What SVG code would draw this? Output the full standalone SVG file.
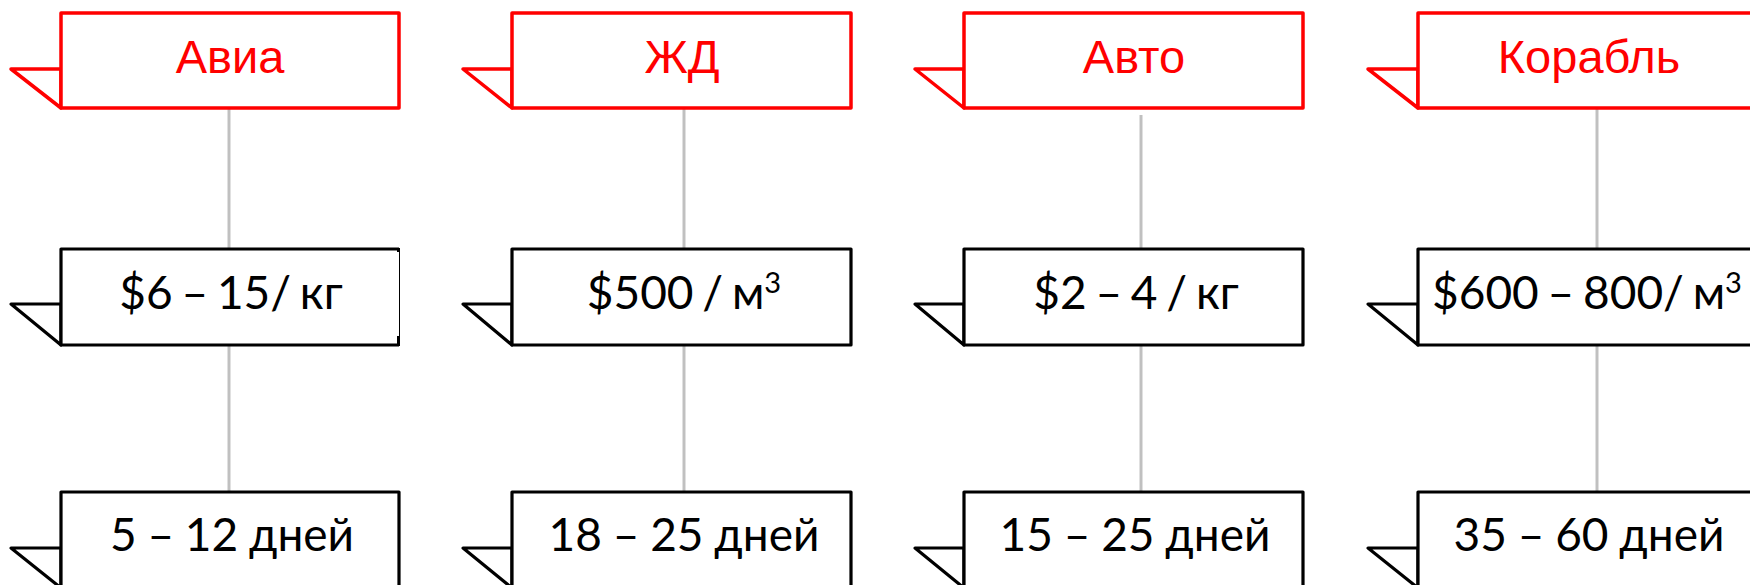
<svg xmlns="http://www.w3.org/2000/svg" width="1750" height="585" viewBox="0 0 1750 585">
<style>
.box{fill:#fff;stroke-width:3.2;stroke-linejoin:round}
.red{stroke:#ff0000;stroke-width:3.5}
.blk{stroke:#000}
.conn{stroke:#c0c0c0;stroke-width:3;fill:none}
.t1{font-family:"Liberation Sans",Arial,sans-serif;font-size:47px;fill:#ff0000;text-anchor:middle}
.t2{font-family:Lato,"Open Sans","Liberation Sans",sans-serif;font-size:46px;fill:#000;text-anchor:middle;word-spacing:-3px}
.t3{word-spacing:-1px}
.sup{font-size:29px}
</style>
<rect width="1750" height="585" fill="#fff"/>
<g id="connectors">
<line class="conn" x1="229" y1="108" x2="229" y2="249"/>
<line class="conn" x1="229" y1="345" x2="229" y2="492"/>
<line class="conn" x1="684" y1="108" x2="684" y2="249"/>
<line class="conn" x1="684" y1="345" x2="684" y2="492"/>
<line class="conn" x1="1141" y1="115" x2="1141" y2="249"/>
<line class="conn" x1="1141" y1="345" x2="1141" y2="494"/>
<line class="conn" x1="1597" y1="108" x2="1597" y2="249"/>
<line class="conn" x1="1597" y1="345" x2="1597" y2="492"/>
</g>
<g id="avia">
<path class="box red" d="M61,69 L11,69 L61,108 Z"/>
<rect class="box red" x="61" y="13" width="338" height="95"/>
<text class="t1" x="230" y="73">Авиа</text>
</g>
<g id="avia-price">
<path class="box blk" d="M61,304 L11,304 L61,345 Z"/>
<path class="box blk" d="M399,345 L61,345 L61,249 L399,249"/>
<line x1="399.5" y1="249" x2="399.5" y2="345" stroke="#000" stroke-width="1"/>
<rect x="397" y="248" width="3" height="4" fill="#000"/>
<rect x="397" y="336" width="3" height="10" fill="#000"/>
<text class="t2" x="231" y="309">$6 – 15/ кг</text>
</g>
<g id="avia-time">
<path class="box blk" d="M61,548 L11,548 L61,588 Z"/>
<rect class="box blk" x="61" y="492" width="338" height="96"/>
<text class="t2 t3" x="232" y="551">5 – 12 дней</text>
</g>
<g id="zhd">
<path class="box red" d="M512,69 L463,69 L512,108 Z"/>
<rect class="box red" x="512" y="13" width="339" height="95"/>
<text class="t1" x="682" y="73">ЖД</text>
</g>
<g id="zhd-price">
<path class="box blk" d="M512,304 L463,304 L512,345 Z"/>
<rect class="box blk" x="512" y="249" width="339" height="96"/>
<text class="t2" x="684" y="309">$500 / м<tspan class="sup" dy="-16">3</tspan></text>
</g>
<g id="zhd-time">
<path class="box blk" d="M512,548 L463,548 L512,588 Z"/>
<rect class="box blk" x="512" y="492" width="339" height="96"/>
<text class="t2 t3" x="684" y="551">18 – 25 дней</text>
</g>
<g id="avto">
<path class="box red" d="M964,69 L915,69 L964,108 Z"/>
<rect class="box red" x="964" y="13" width="339" height="95"/>
<text class="t1" x="1134" y="73">Авто</text>
</g>
<g id="avto-price">
<path class="box blk" d="M964,304 L915,304 L964,345 Z"/>
<rect class="box blk" x="964" y="249" width="339" height="96"/>
<text class="t2" x="1136" y="309">$2 – 4 / кг</text>
</g>
<g id="avto-time">
<path class="box blk" d="M964,548 L915,548 L964,588 Z"/>
<rect class="box blk" x="964" y="492" width="339" height="96"/>
<text class="t2 t3" x="1135" y="551">15 – 25 дней</text>
</g>
<g id="korabl">
<path class="box red" d="M1418,69 L1368,69 L1418,108 Z"/>
<rect class="box red" x="1418" y="13" width="345" height="95"/>
<text class="t1" x="1589" y="73">Корабль</text>
</g>
<g id="korabl-price">
<path class="box blk" d="M1418,304 L1368,304 L1418,345 Z"/>
<rect class="box blk" x="1418" y="249" width="345" height="96"/>
<text class="t2" x="1587" y="309">$600 – 800/ м<tspan class="sup" dy="-16">3</tspan></text>
</g>
<g id="korabl-time">
<path class="box blk" d="M1418,548 L1368,548 L1418,588 Z"/>
<rect class="box blk" x="1418" y="492" width="345" height="96"/>
<text class="t2 t3" x="1589" y="551">35 – 60 дней</text>
</g>
</svg>
